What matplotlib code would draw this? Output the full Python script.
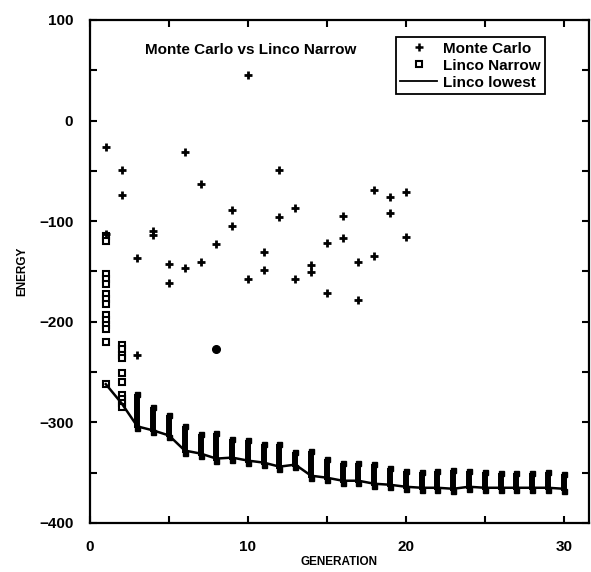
import matplotlib
matplotlib.use("Agg")
import matplotlib.pyplot as plt
from matplotlib.ticker import MultipleLocator

plt.rcParams['font.family'] = ['Liberation Sans', 'DejaVu Sans']

# Monte Carlo runs (two per generation)
mc_gen = [1, 1, 2, 2, 3, 3, 4, 4, 5, 5, 6, 6, 7, 7, 8, 9, 9, 10, 10, 11, 11,
          12, 12, 13, 13, 14, 14, 15, 15, 16, 16, 17, 17, 18, 18, 19, 19, 20, 20]
mc_energy = [-26, -113, -49, -74, -137, -233, -110, -114, -143, -161, -31, -147,
             -63, -141, -123, -89, -105, 45, -157, -131, -149, -49, -96, -87,
             -157, -144, -151, -122, -171, -95, -117, -141, -178, -69, -135,
             -76, -92, -71, -116]
# blotted point at generation 8
odd_gen = [8]
odd_energy = [-227]

# Linco narrow population, first two generations
narrow1 = [-115, -120, -153, -157, -162, -172, -177, -182, -193, -198, -203,
           -207, -220, -262]
narrow2 = [-223, -227, -233, -236, -251, -260, -273, -277, -281, -285]

# later generations: population spread (top / bottom of each column)
col_gen = [3, 4, 5, 6, 7, 8, 9, 10, 11, 12, 13, 14, 15, 16, 17, 18, 19, 20,
           21, 22, 23, 24, 25, 26, 27, 28, 29, 30]
col_top = [-272, -285, -293, -304, -312, -311, -317, -318, -321, -321, -329,
           -328, -336, -340, -340, -341, -345, -348, -349, -348, -347, -348,
           -349, -350, -350, -350, -349, -351]
col_bot = [-306, -310, -315, -330, -333, -338, -337, -340, -342, -346, -344,
           -355, -357, -360, -360, -363, -364, -366, -367, -367, -368, -366,
           -367, -367, -367, -367, -367, -368]

# Linco lowest energy per generation
low_gen = [1, 2, 3, 4, 5, 6, 7, 8, 9, 10, 11, 12, 13, 14, 15, 16, 17, 18, 19,
           20, 21, 22, 23, 24, 25, 26, 27, 28, 29, 30]
low_energy = [-262, -281, -304, -308, -313, -328, -331, -336, -335, -338, -340,
              -344, -342, -353, -355, -358, -358, -361, -362, -364, -365, -365,
              -366, -364, -365, -365, -365, -365, -365, -366]

fig = plt.figure(figsize=(5.91, 5.72), dpi=100)
ax = fig.add_axes([0.1523, 0.0857, 0.8443, 0.8794])

sq = dict(marker='s', markersize=3.8, markerfacecolor='white',
          markeredgecolor='k', markeredgewidth=1.5, linestyle='none')

# packed squares in later generations merge into solid columns
ax.vlines(col_gen, col_bot, col_top, colors='k', linewidth=4.3)
ax.plot(col_gen, col_top, marker='s', markersize=3.6, color='k',
        linestyle='none')
ax.plot(col_gen, col_bot, marker='s', markersize=3.6, color='k',
        linestyle='none')
ax.plot([1] * len(narrow1), narrow1, **sq)
ax.plot([2] * len(narrow2), narrow2, **sq)

ax.plot(low_gen, low_energy, color='k', linewidth=1.8)

ax.plot(mc_gen, mc_energy, linestyle='none', marker='+', markersize=6,
        markeredgewidth=2.0, color='k')
ax.plot(odd_gen, odd_energy, linestyle='none', marker='o', markersize=5.5,
        color='k')

# legend handles
h1, = ax.plot([], [], linestyle='none', marker='+', markersize=6,
              markeredgewidth=1.8, color='k', label='Monte Carlo')
h2, = ax.plot([], [], label='Linco Narrow', **sq)
h3, = ax.plot([], [], color='k', linewidth=1.3, label='Linco lowest')
leg = ax.legend(handles=[h1, h2, h3], loc='upper left',
                bbox_to_anchor=(0.613, 0.966), borderaxespad=0,
                fancybox=False, edgecolor='k', framealpha=1,
                prop={'size': 11, 'weight': 'bold'}, handlelength=2.4,
                handletextpad=0.4, labelspacing=0.2, borderpad=0.3,
                numpoints=1)
leg.get_frame().set_linewidth(1.3)

ax.text(0.110, 0.940, 'Monte Carlo vs Linco Narrow', transform=ax.transAxes,
        fontsize=11, fontweight='bold', va='center', ha='left')

ax.set_xlim(0, 31.6)
ax.set_ylim(-400, 100)
ax.xaxis.set_major_locator(MultipleLocator(10))
ax.xaxis.set_minor_locator(MultipleLocator(5))
ax.yaxis.set_major_locator(MultipleLocator(100))
ax.yaxis.set_minor_locator(MultipleLocator(50))
ax.tick_params(which='both', direction='in', top=True, right=True,
               length=5, width=1.5, labelsize=11, pad=12)
for lab in ax.get_xticklabels() + ax.get_yticklabels():
    lab.set_fontweight('bold')
for s in ax.spines.values():
    s.set_linewidth(1.6)

ax.set_xlabel('GENERATION', fontsize=8.5, fontweight='bold', labelpad=2)
ax.set_ylabel('ENERGY', fontsize=8.5, fontweight='bold', labelpad=8)

fig.savefig('out.png', dpi=100)
